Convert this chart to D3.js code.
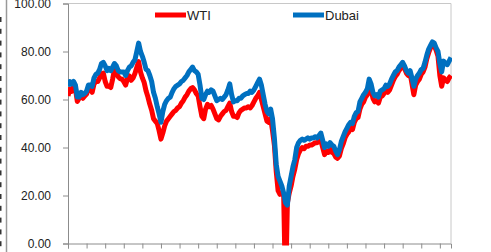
<!DOCTYPE html>
<html>
  <head>
    <meta charset="utf-8" />
    <title>WTI vs Dubai</title>
    <script src="https://d3js.org/d3.v7.min.js"></script>
    <style>
      body { margin: 0; background: #fff; }
      text { font-family: "Liberation Sans", Arial, sans-serif; fill: #222; }
    </style>
  </head>
  <body>
    <svg width="491" height="252" id="chart"></svg>

    <script>
      // series names + colours for the legend
      var seriesNames = ["WTI", "Dubai"];
      var seriesColors = ["#ff0000", "#0070c0"];

      // y axis ticks
      var yTicks = [0, 20, 40, 60, 80, 100];

      // roughly one value per week (5 trading days)
      var wti = [
        61.5, 64.3, 63.4, 65.5, 64.5, 59.2, 60.5, 61.5, 60.5, 61.5,
        62.3, 65.0, 64.5, 63.0, 66.5, 67.5, 67.5, 69.0, 70.7, 71.0,
        67.5, 65.5, 65.5, 65.0, 68.5, 72.5, 71.0, 69.5, 68.7, 68.5,
        67.5, 66.0, 68.7, 69.8, 68.0, 69.0, 70.8, 73.3, 75.8, 71.5,
        69.0, 67.0, 63.5, 61.0, 58.0, 55.5, 52.0, 51.0, 50.0, 47.0,
        43.5, 46.0, 49.0, 51.0, 52.0, 53.0, 54.0, 55.0, 55.5, 56.5,
        57.0, 58.5, 59.5, 61.0, 62.0, 63.5, 64.5, 65.0, 64.0, 62.5,
        61.5, 57.0, 53.0, 52.0, 56.0, 58.0, 57.0, 57.5, 56.0, 54.0,
        52.0, 51.5, 53.0, 54.0, 55.0, 55.5, 57.0, 58.5, 55.0, 53.0,
        53.0, 52.5, 54.5, 55.5, 56.0, 56.5, 56.5, 57.0, 56.5, 57.5,
        59.0, 60.5, 61.5, 63.0, 60.0, 57.0, 54.0, 51.0, 50.5, 52.0,
        47.0, 41.0, 30.0, 22.0, 20.5, 21.0, 20.0, -20.0, 17.0, 21.0,
        24.0, 28.0, 31.0, 35.0, 37.5, 39.0, 40.0, 39.5, 40.5, 40.5,
        41.0, 41.0, 41.5, 42.0, 42.0, 42.5, 43.0, 40.0, 37.0, 38.5,
        38.0, 39.5, 38.0, 37.5, 36.0, 35.5, 36.5, 39.5, 41.5, 44.0,
        45.5, 46.5, 48.0, 47.5, 50.5, 52.0, 52.5, 56.0, 58.0, 59.0,
        61.0, 62.0, 65.5, 64.5, 60.5, 59.0, 59.5, 58.5, 61.0, 61.5,
        62.5, 64.0, 63.0, 64.0, 66.0, 68.0, 69.5, 70.5, 72.0, 73.0,
        74.5, 73.0, 71.0, 70.0, 71.0, 66.5, 62.0, 66.0, 67.5, 68.5,
        70.5, 71.5, 73.5, 77.0, 79.5, 81.5, 83.5, 82.5, 80.5, 78.0,
        70.0, 65.5, 69.0, 68.0, 67.5, 69.0, 70.0
      ];

      var dubai = [
        65.5, 67.5, 66.5, 67.5, 66.0, 61.0, 61.0, 63.0, 62.0, 62.5,
        63.5, 66.0, 66.0, 65.5, 69.0, 70.5, 71.0, 72.5, 75.0, 75.5,
        74.0, 72.0, 73.0, 72.0, 73.5, 75.0, 74.0, 72.0, 71.5, 71.5,
        71.5, 70.0, 72.0, 73.5, 74.0, 75.5, 76.5, 80.0, 83.5, 80.0,
        78.0, 75.5, 72.5, 72.0, 70.0, 67.5, 63.0, 60.5, 57.0, 54.0,
        50.5, 55.0, 58.0, 59.5, 60.5, 61.0, 63.0, 64.5, 65.5, 66.0,
        66.5, 67.5, 68.0, 69.0, 70.0, 71.5, 72.5, 73.5, 72.0, 71.5,
        70.5, 66.0, 60.5, 60.0, 62.0, 63.5, 63.0, 64.0, 63.5, 61.5,
        59.5, 60.0, 60.5, 60.0, 61.0, 62.0, 64.0, 66.5, 62.0, 59.0,
        59.5, 59.5, 60.5, 60.5, 61.5, 62.0, 62.5, 62.5, 63.5, 63.0,
        64.0, 65.5, 67.0, 68.5, 66.0, 62.0, 58.0, 55.0, 54.0, 56.0,
        52.0, 44.0, 33.0, 28.0, 26.0, 24.0, 21.0, 17.0, 16.0, 24.0,
        28.0, 32.0, 35.0, 40.0, 42.0, 43.0, 43.5, 43.0, 43.5, 44.0,
        43.5, 44.0, 44.0, 44.5, 44.0, 45.0, 46.0, 43.0, 40.0, 41.5,
        40.5, 42.0, 41.0, 40.5, 38.5, 37.0, 39.0, 42.5, 44.5, 46.5,
        48.0, 49.5, 50.5, 50.0, 53.0, 54.5, 55.0, 59.0, 60.5, 62.0,
        63.0, 64.5, 68.5, 66.5, 63.0, 61.5, 62.0, 61.0, 63.5, 64.0,
        64.5, 66.0, 65.5, 66.5, 68.5, 70.0, 71.5, 72.0, 73.5, 74.5,
        75.5, 74.0, 72.0, 71.0, 72.0, 69.0, 65.5, 68.5, 70.0, 71.0,
        72.5, 73.0, 75.5, 78.5, 81.0, 82.5, 84.0, 83.5, 81.5, 80.0,
        75.0, 71.5, 76.0, 75.0, 74.5, 76.0, 77.5
      ];

      var svg = d3.select("#chart");

      var plotLeft = 68, plotRight = 451, plotTop = 3.5, plotBottom = 243.5;

      // x is just the point index, ticks every 10 points (50 trading days)
      var x = d3.scaleLinear().domain([0, wti.length - 1]).range([plotLeft, plotRight]);
      var y = d3.scaleLinear().domain([0, 100]).range([plotBottom, plotTop]);

      // bits of a neighbouring chart cut off at the left edge
      svg.append("line")
        .attr("x1", 6.5).attr("x2", 6.5)
        .attr("y1", 0).attr("y2", 252)
        .attr("stroke", "#999").attr("stroke-width", 1.5);
      svg.selectAll(".edge")
        .data(d3.range(17, 245, 11.8))
        .enter().append("rect")
        .attr("class", "edge")
        .attr("x", 0).attr("width", 1.5)
        .attr("y", function(d) { return d; })
        .attr("height", 5)
        .attr("fill", "#333");

      // plot area border (top / right)
      svg.append("path")
        .attr("d", "M" + plotLeft + "," + plotTop + "H" + plotRight + "V" + plotBottom)
        .attr("fill", "none")
        .attr("stroke", "#c8c8c8")
        .attr("stroke-width", 1);

      // y axis
      var yAxis = svg.append("g")
        .attr("transform", "translate(" + plotLeft + ",0)")
        .call(d3.axisLeft(y).tickValues(yTicks).tickSize(5).tickPadding(12)
          .tickFormat(d3.format(".2f")));
      yAxis.select(".domain").attr("stroke", "#8c8c8c");
      yAxis.selectAll(".tick line").attr("stroke", "#8c8c8c");
      yAxis.selectAll("text").style("font-size", "12px").attr("fill", "#222");

      // x axis (labels fall below the visible area)
      var xAxis = svg.append("g")
        .attr("transform", "translate(0," + plotBottom + ")")
        .call(d3.axisBottom(x).tickValues(d3.range(0, wti.length, 10)).tickSize(5).tickFormat(""));
      xAxis.select(".domain").attr("stroke", "#8c8c8c");
      xAxis.selectAll(".tick line").attr("stroke", "#8c8c8c");

      svg.append("clipPath").attr("id", "plotClip")
        .append("rect")
        .attr("x", plotLeft).attr("y", 0)
        .attr("width", plotRight - plotLeft + 1).attr("height", plotBottom + 2);

      var line = d3.line()
        .x(function(d, i) { return x(i); })
        .y(function(d) { return y(d); });

      var lines = svg.append("g").attr("clip-path", "url(#plotClip)");
      [wti, dubai].forEach(function(series, k) {
        lines.append("path")
          .datum(series)
          .attr("d", line)
          .attr("fill", "none")
          .attr("stroke", seriesColors[k])
          .attr("stroke-width", 5)
          .attr("stroke-linejoin", "round");
      });

      // legend
      var legendX = [155, 293];
      seriesNames.forEach(function(name, k) {
        var g = svg.append("g").attr("transform", "translate(" + legendX[k] + ",15)");
        g.append("line")
          .attr("x1", 0).attr("x2", 31)
          .attr("stroke", seriesColors[k])
          .attr("stroke-width", 5);
        g.append("text")
          .attr("x", 32).attr("y", 4.5)
          .style("font-size", "13px")
          .text(name);
      });
    </script>
  </body>
</html>
